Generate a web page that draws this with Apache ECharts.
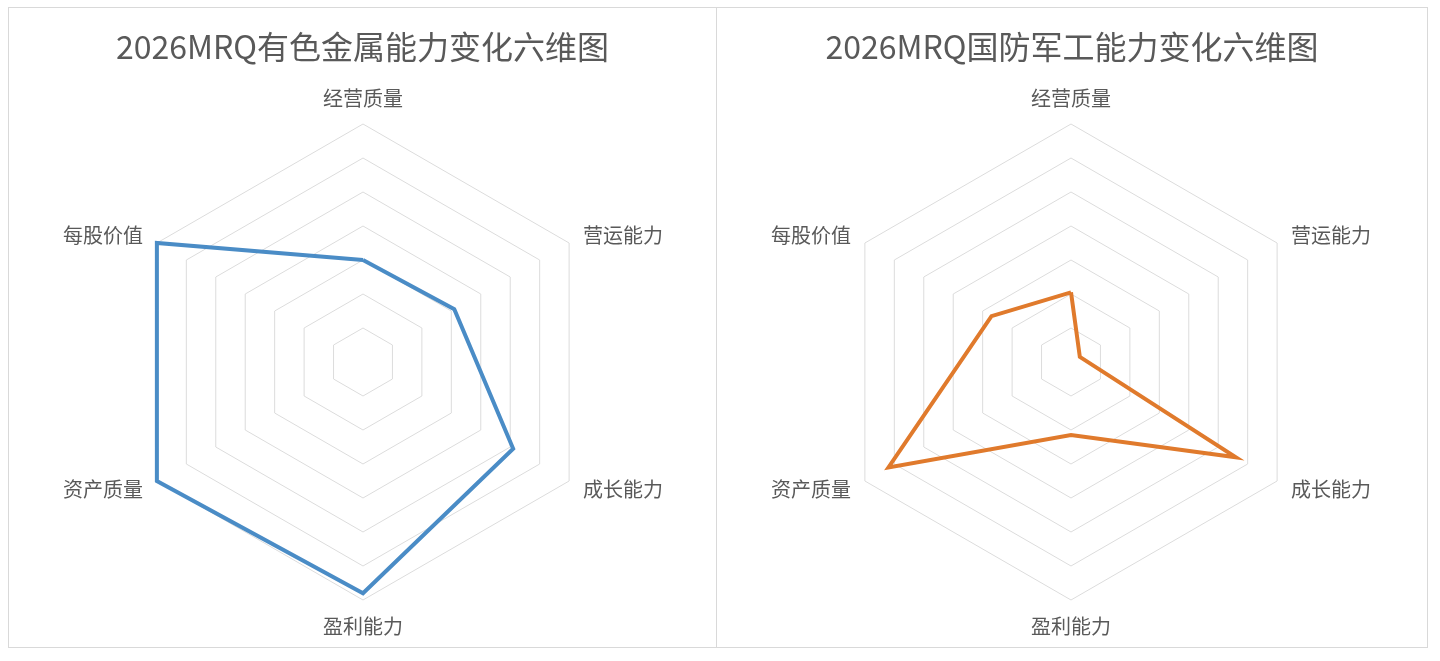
<!DOCTYPE html>
<html>
<head>
<meta charset="utf-8">
<script src="https://cdn.jsdelivr.net/npm/echarts@6/dist/echarts.min.js"></script>
<style>
  html, body { margin:0; padding:0; background:#fff; width:1440px; height:661px; overflow:hidden; }
  .panel { position:absolute; top:7px; height:641px; border:1px solid #d9d9d9; box-sizing:border-box; }
  #left { left:8px; width:709px; }
  #right { left:716px; width:712px; }
</style>
</head>
<body>
<div id="left" class="panel"></div>
<div id="right" class="panel"></div>
<script>
// indicator order as echarts lays them out (counter-clockwise from top)
var categories = ['经营质量', '每股价值', '资产质量', '盈利能力', '成长能力', '营运能力'];
var axisMax = 7;

// 有色金属
var metalsTitle = '2026MRQ有色金属能力变化六维图';
var metalsValues = [3.0, 7.0, 7.0, 6.8, 5.1, 3.1];

// 国防军工
var defenseTitle = '2026MRQ国防军工能力变化六维图';
var defenseValues = [2.05, 2.7, 6.2, 2.15, 5.6, 0.3];

var textCol = '#595959';
var fontFam = '"Noto Sans CJK SC", "Noto Sans", sans-serif';

function make_chart(el, title, values, color, cx) {
	var chart = echarts.init(document.getElementById(el));
	var indicators = categories.map(function (c) { return { name: c, max: axisMax, min: 0 }; });
	var option = {
		animation: false,
		title: {
			text: title,
			left: 'center',
			top: 18,
			textStyle: { color: textCol, fontSize: 32, fontWeight: 'normal', fontFamily: fontFam }
		},
		radar: {
			center: [cx, 354],
			radius: 238,
			startAngle: 90,
			shape: 'polygon',
			splitNumber: 7,
			indicator: indicators,
			axisName: { color: textCol, fontSize: 20, fontFamily: fontFam },
			nameGap: 16,
			axisLine: { show: false },
			axisTick: { show: false },
			axisLabel: { show: false },
			splitArea: { show: false },
			splitLine: { lineStyle: { color: '#dcdcdc', width: 1 } }
		},
		series: [{
			type: 'radar',
			symbol: 'none',
			data: [{ value: values, name: title }],
			lineStyle: { color: color, width: 4, join: 'miter' },
			itemStyle: { color: color }
		}]
	};
	chart.setOption(option);
	return chart;
}

make_chart('left', metalsTitle, metalsValues, '#4a8cc6', 354);
make_chart('right', defenseTitle, defenseValues, '#e07a2c', 354);
</script>
</body>
</html>
